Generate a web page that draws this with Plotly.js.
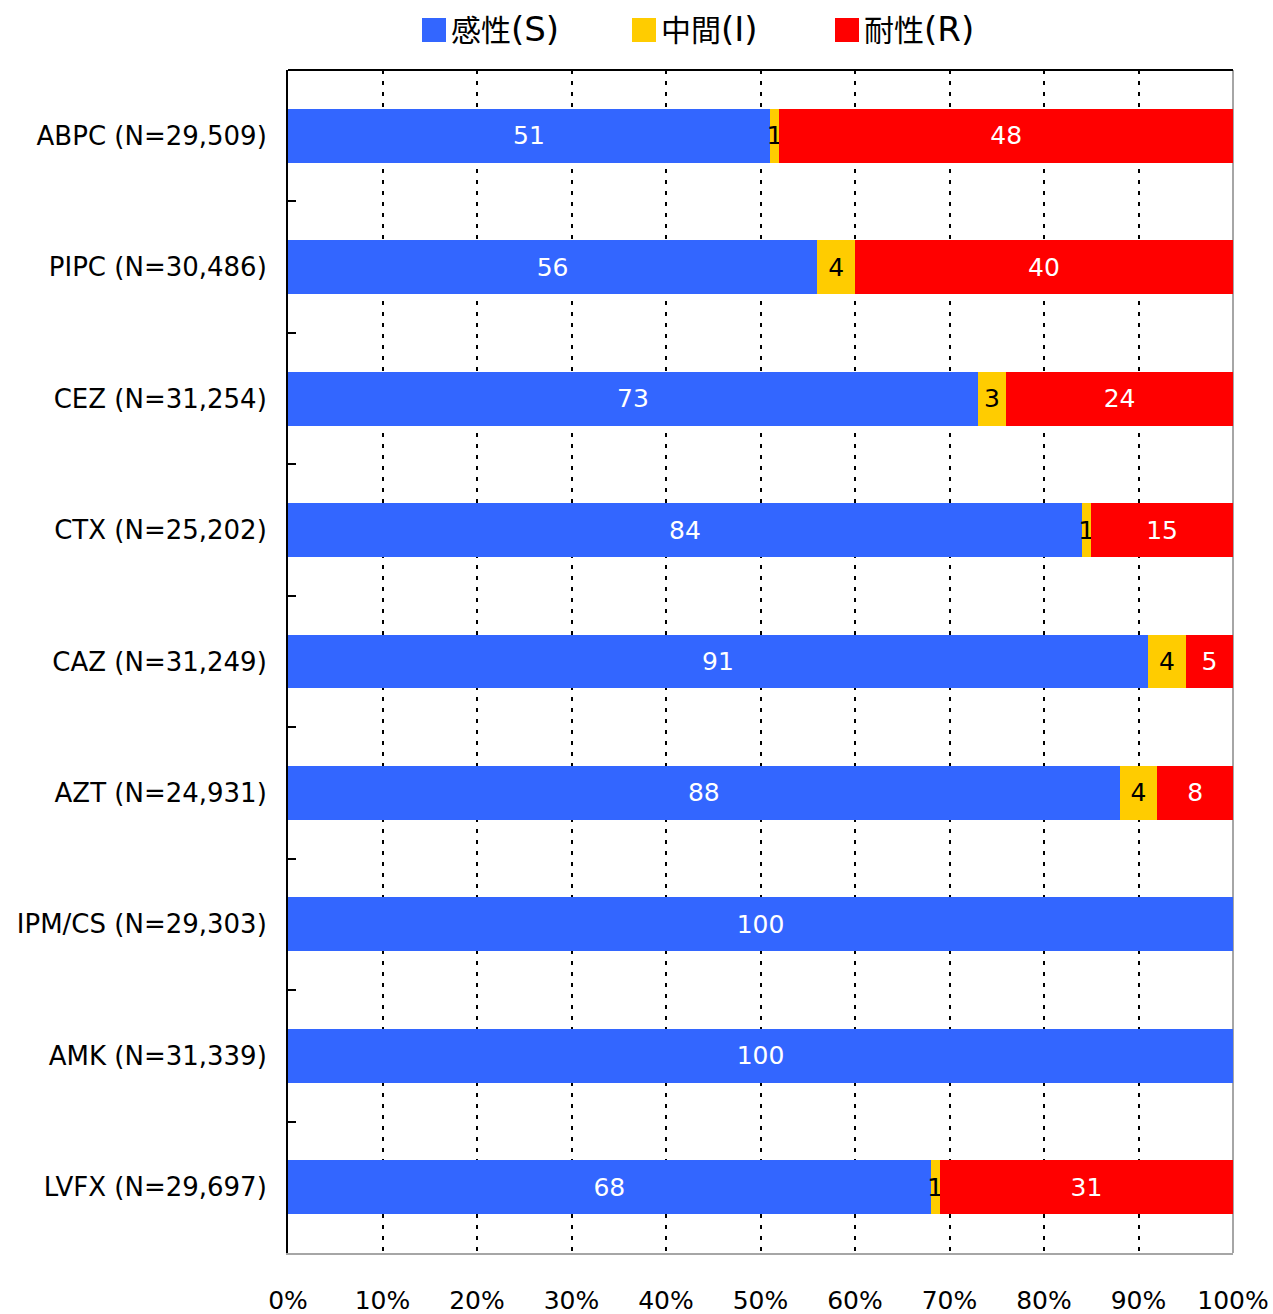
<!DOCTYPE html>
<html>
<head>
<meta charset="utf-8">
<script src="https://cdn.plot.ly/plotly-3.0.1.min.js"></script>
<style>html,body{margin:0;padding:0;background:#fff;}#chart{width:1273px;height:1314px;}</style>
</head>
<body>
<div id="chart"></div>
<script>
const categories = ['ABPC (N=29,509)', 'PIPC (N=30,486)', 'CEZ (N=31,254)', 'CTX (N=25,202)', 'CAZ (N=31,249)', 'AZT (N=24,931)', 'IPM/CS (N=29,303)', 'AMK (N=31,339)', 'LVFX (N=29,697)'];
const susceptible = [51, 56, 73, 84, 91, 88, 100, 100, 68];
const intermediate = [1, 4, 3, 1, 4, 4, 0, 0, 1];
const resistant = [48, 40, 24, 15, 5, 8, 0, 0, 31];
const seriesNames = ['感性', '中間', '耐性'];
const seriesCodes = ['(S)', '(I)', '(R)'];
const seriesColors = ['#3366FF', '#FFCC00', '#FF0000'];
const textColors = ['#FFFFFF', '#000000', '#FFFFFF'];
const xTickVals = [0, 10, 20, 30, 40, 50, 60, 70, 80, 90, 100];
const xTickText = ['0%', '10%', '20%', '30%', '40%', '50%', '60%', '70%', '80%', '90%', '100%'];

const FONT = 'DejaVu Sans, Noto Sans CJK JP, sans-serif';
const seriesValues = [susceptible, intermediate, resistant];

const traces = seriesValues.map((vals, i) => ({
  type: 'bar',
  orientation: 'h',
  name: seriesNames[i] + seriesCodes[i],
  y: categories,
  x: vals,
  text: vals.map(v => v > 0 ? String(v) : ''),
  textposition: 'inside',
  insidetextanchor: 'middle',
  textangle: 0,
  constraintext: 'none',
  cliponaxis: false,
  textfont: {family: FONT, size: 25, color: textColors[i]},
  marker: {color: seriesColors[i], line: {width: 0}},
  showlegend: false,
  hoverinfo: 'x+y+name'
}));

// custom legend (swatch + label) in paper coordinates
const L = 288, R = 1233, T = 70, B = 1253;
const px = x => (x - L) / (R - L);
const py = y => (B - y) / (B - T);
const legendX = [422, 632, 835];
const shapes = [];
const annotations = [];
seriesNames.forEach((n, i) => {
  shapes.push({type: 'rect', xref: 'paper', yref: 'paper', x0: px(legendX[i]), x1: px(legendX[i] + 24),
    y0: py(42), y1: py(18), fillcolor: seriesColors[i], line: {width: 0}});
  annotations.push({xref: 'paper', yref: 'paper', x: px(legendX[i] + 27), y: py(29), xanchor: 'left', yanchor: 'middle',
    text: n + '<span style="font-size:34px">' + seriesCodes[i] + '</span>', showarrow: false,
    font: {family: FONT, size: 30, color: '#000'}});
});
// top (black) and right (gray) frame lines
shapes.push({type: 'line', xref: 'paper', yref: 'paper', x0: 0, x1: 1, y0: 1, y1: 1, line: {color: '#000', width: 2}});
shapes.push({type: 'line', xref: 'paper', yref: 'paper', x0: 1, x1: 1, y0: 0, y1: 1, line: {color: '#A6A6A6', width: 2}, layer: 'below'});

const layout = {
  width: 1273, height: 1314,
  margin: {l: L, r: 1273 - R, t: T, b: 1314 - B, pad: 0},
  paper_bgcolor: '#fff', plot_bgcolor: '#fff',
  barmode: 'stack',
  bargap: 0.59,
  showlegend: false,
  font: {family: FONT, color: '#000'},
  xaxis: {
    range: [0, 100], tickvals: xTickVals, ticktext: xTickText,
    showgrid: true, gridcolor: '#000', gridwidth: 2, griddash: '4px,7px',
    zeroline: false, showline: true, linecolor: '#A6A6A6', linewidth: 2,
    ticks: '', ticklabelstandoff: 24,
    tickfont: {family: FONT, size: 25, color: '#000'},
    fixedrange: true
  },
  yaxis: {
    autorange: 'reversed', type: 'category',
    showgrid: false, zeroline: false,
    showline: true, linecolor: '#000', linewidth: 2,
    ticks: 'inside', tickson: 'boundaries', ticklen: 8, tickwidth: 2, tickcolor: '#000',
    ticklabelstandoff: 14,
    tickfont: {family: FONT, size: 26, color: '#000'},
    fixedrange: true
  },
  shapes: shapes,
  annotations: annotations
};

Plotly.newPlot('chart', traces, layout, {displayModeBar: false, staticPlot: true});
</script>
</body>
</html>
